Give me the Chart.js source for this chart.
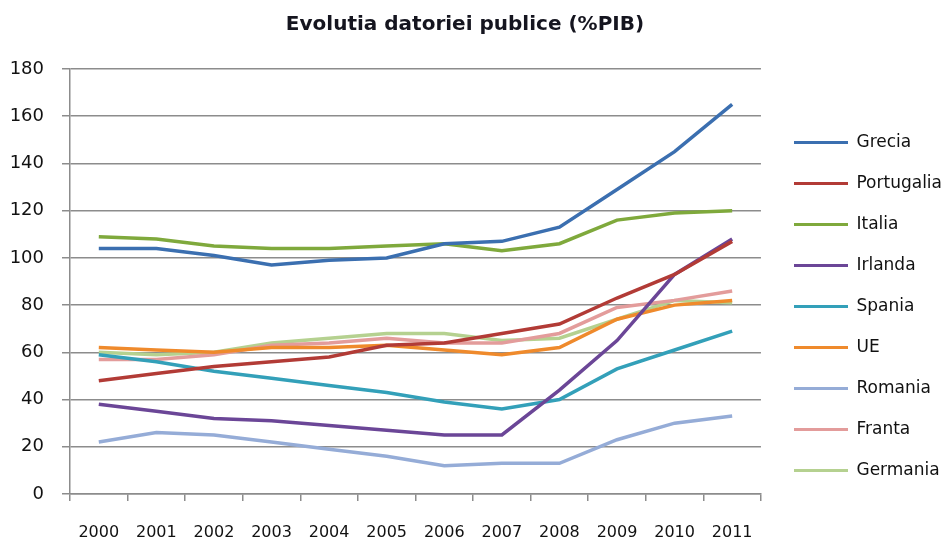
<!DOCTYPE html>
<html>
<head>
<meta charset="utf-8">
<script src="https://cdn.jsdelivr.net/npm/chart.js@4"></script>
<style>
	body { margin: 0; background: #fff; }
</style>
</head>
<body>
<canvas id="debt-chart" width="946" height="539"></canvas>
<script>
const years = ["2000", "2001", "2002", "2003", "2004", "2005", "2006", "2007", "2008", "2009", "2010", "2011"];
const yTicks = [0, 20, 40, 60, 80, 100, 120, 140, 160, 180];

const grecia = [104, 104, 101, 97, 99, 100, 106, 107, 113, 129, 145, 165];
const portugalia = [48, 51, 54, 56, 58, 63, 64, 68, 72, 83, 93, 107];
const italia = [109, 108, 105, 104, 104, 105, 106, 103, 106, 116, 119, 120];
const irlanda = [38, 35, 32, 31, 29, 27, 25, 25, 44, 65, 93, 108];
const spania = [59, 56, 52, 49, 46, 43, 39, 36, 40, 53, 61, 69];
const ue = [62, 61, 60, 62, 62, 63, 61, 59, 62, 74, 80, 82];
const romania = [22, 26, 25, 22, 19, 16, 12, 13, 13, 23, 30, 33];
const franta = [57, 57, 59, 63, 64, 66, 64, 64, 68, 79, 82, 86];
const germania = [60, 59, 60, 64, 66, 68, 68, 65, 66, 74, 82, 81];

const series = [
	{ label: "Grecia", data: grecia, color: "#3b6fb0" },
	{ label: "Portugalia", data: portugalia, color: "#b23b36" },
	{ label: "Italia", data: italia, color: "#7fa93c" },
	{ label: "Irlanda", data: irlanda, color: "#6b4697" },
	{ label: "Spania", data: spania, color: "#33a0b9" },
	{ label: "UE", data: ue, color: "#ef8a2c" },
	{ label: "Romania", data: romania, color: "#95acd7" },
	{ label: "Franta", data: franta, color: "#e39c9b" },
	{ label: "Germania", data: germania, color: "#b5d190" },
];

const font = "'DejaVu Sans', sans-serif";

// legend marker: a short line with some empty room on its left
const legendLine = (color) => {
	const c = document.createElement("canvas");
	c.width = 63;
	c.height = 3;
	const ctx = c.getContext("2d");
	ctx.fillStyle = color;
	ctx.fillRect(9, 0, 54, 3);
	return c;
};

new Chart(document.getElementById("debt-chart"), {
	type: "line",
	data: {
		labels: years,
		datasets: series.map((s) => ({
			label: s.label,
			data: s.data,
			borderColor: s.color,
			backgroundColor: s.color,
			borderWidth: 3.5,
			pointRadius: 0,
			pointStyle: legendLine(s.color),
			tension: 0,
			fill: false,
		})),
	},
	options: {
		responsive: false,
		animation: false,
		layout: {
			padding: { left: -22, right: -6, top: 0, bottom: 0 },
		},
		scales: {
			x: {
				offset: true,
				afterFit: (axis) => {
					axis.height = 45;
				},
				grid: {
					offset: true,
					drawOnChartArea: false,
					color: "#8c8c8c",
					lineWidth: 1.5,
					tickLength: 7,
				},
				border: { color: "#8c8c8c", width: 1.5 },
				ticks: {
					color: "#111",
					font: { family: font, size: 16, lineHeight: 1 },
					padding: 24,
					maxRotation: 0,
					autoSkip: false,
				},
			},
			y: {
				min: 0,
				max: 180,
				afterBuildTicks: (axis) => {
					axis.ticks = yTicks.map((v) => ({ value: v }));
				},
				afterFit: (axis) => {
					axis.width = 92;
				},
				grid: {
					color: "#8c8c8c",
					lineWidth: 1.5,
					tickLength: 8,
				},
				border: { color: "#8c8c8c", width: 1.5 },
				ticks: {
					color: "#111",
					font: { family: font, size: 18 },
					padding: 18,
				},
			},
		},
		plugins: {
			title: {
				display: true,
				text: "Evolutia datoriei publice (%PIB)",
				color: "#15151f",
				font: { family: font, size: 20, weight: "bold" },
				padding: { top: 13, bottom: 32 },
			},
			legend: {
				position: "right",
				title: {
					display: true,
					text: "",
					font: { size: 10 },
					padding: { top: 31, bottom: 31 },
				},
				labels: {
					usePointStyle: true,
					pointStyleWidth: 63,
					color: "#111",
					font: { family: font, size: 17 },
					padding: 24,
				},
			},
			tooltip: { enabled: false },
		},
	},
});
</script>
</body>
</html>
